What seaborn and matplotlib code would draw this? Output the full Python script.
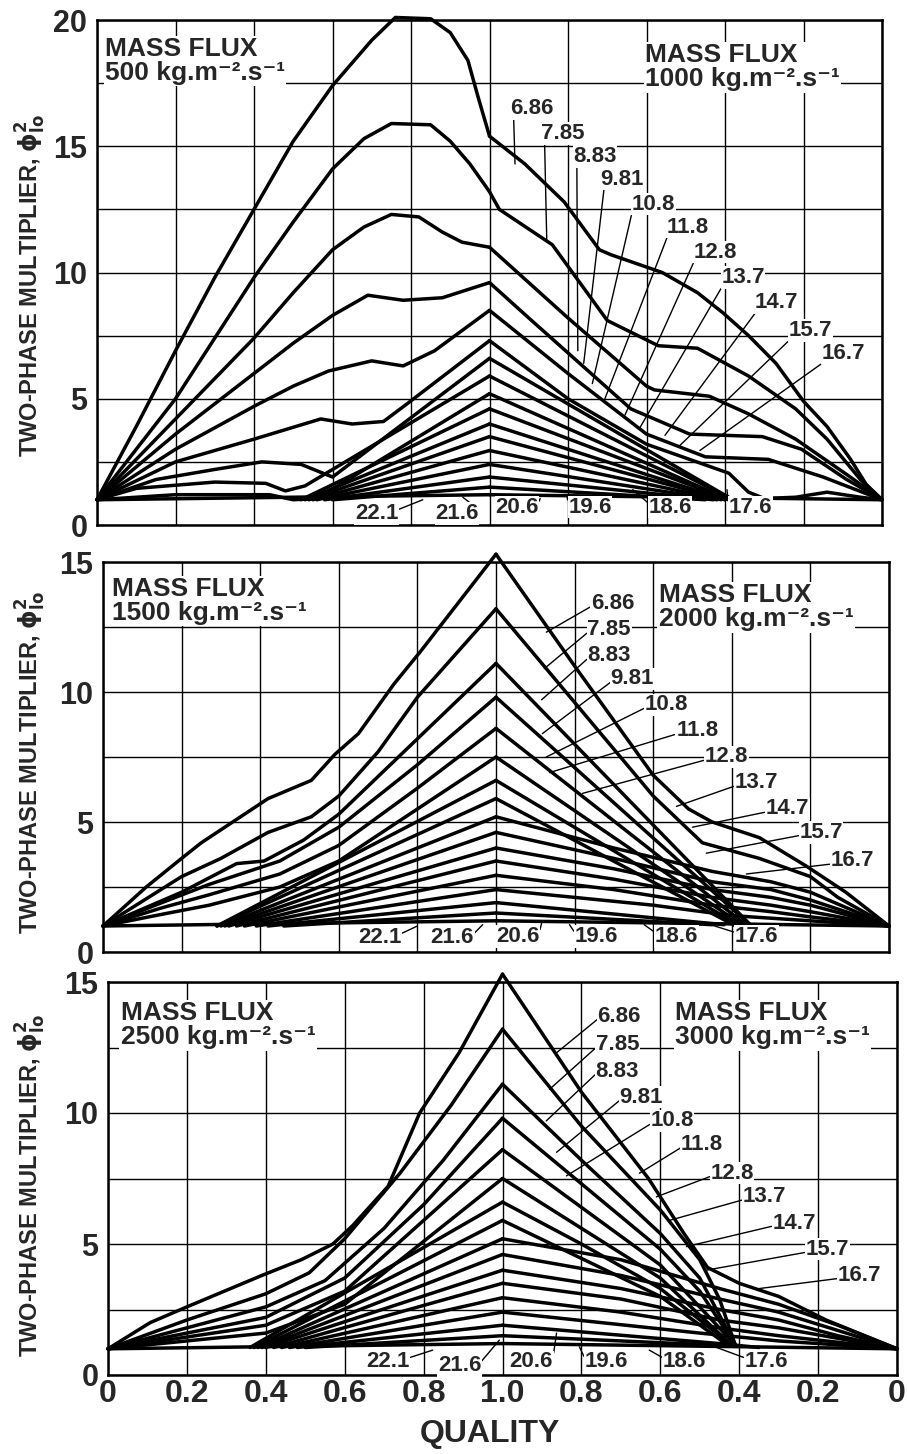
import numpy as np
import pandas as pd
import matplotlib
matplotlib.use("Agg")
import matplotlib.pyplot as plt
import seaborn as sns

# ---------------- data (quality, phi_lo^2) ----------------
PRESSURES = ["6.86", "7.85", "8.83", "9.81", "10.8", "11.8", "12.8", "13.7", "14.7",
             "15.7", "16.7", "17.6", "18.6", "19.6", "20.6", "21.6", "22.1"]

G500 = [
    [[0, 1.0], [0.1, 3.9], [0.2, 6.9], [0.3, 9.8], [0.4, 12.5], [0.5, 15.2], [0.6, 17.4], [0.7, 19.2], [0.76, 20.1], [0.85, 20.05], [0.9, 19.5], [0.945, 18.4], [0.97, 17.0], [1.0, 15.4]],
    [[0, 1.0], [0.2, 5.0], [0.4, 9.8], [0.5, 12.0], [0.6, 14.1], [0.68, 15.3], [0.75, 15.9], [0.85, 15.85], [0.9, 15.2], [0.95, 14.3], [1.0, 13.2]],
    [[0, 1.0], [0.2, 4.2], [0.4, 7.4], [0.5, 9.2], [0.6, 10.9], [0.68, 11.8], [0.75, 12.3], [0.82, 12.2], [0.88, 11.6], [0.93, 11.2], [1.0, 11.0]],
    [[0, 1.0], [0.2, 3.6], [0.4, 6.0], [0.5, 7.2], [0.6, 8.3], [0.69, 9.1], [0.78, 8.9], [0.88, 9.0], [1.0, 9.6]],
    [[0, 1.0], [0.2, 3.0], [0.4, 4.7], [0.5, 5.5], [0.59, 6.1], [0.7, 6.5], [0.78, 6.3], [0.86, 6.9], [1.0, 8.5]],
    [[0, 1.0], [0.2, 2.5], [0.4, 3.4], [0.57, 4.2], [0.65, 4.0], [0.73, 4.1], [0.79, 4.8], [1.0, 7.3]],
    [[0, 1.0], [0.15, 1.8], [0.3, 2.2], [0.42, 2.5], [0.52, 2.4], [0.6, 1.9], [1.0, 6.6]],
    [[0, 1.0], [0.1, 1.45], [0.3, 1.7], [0.43, 1.65], [0.48, 1.35], [0.53, 1.55], [1.0, 5.9]],
    [[0, 1.0], [0.2, 1.2], [0.44, 1.2], [0.5, 1.0], [0.56, 1.05], [1.0, 5.2]],
    [[0.52, 1.0], [1.0, 4.6]],
    [[0.53, 1.0], [1.0, 4.0]],
    [[0.54, 1.0], [1.0, 3.5]],
    [[0.55, 1.0], [1.0, 2.95]],
    [[0.56, 1.0], [1.0, 2.4]],
    [[0.58, 1.0], [1.0, 1.9]],
    [[0.6, 1.0], [1.0, 1.5]],
    [[0, 1.0], [1.0, 1.2]],
]

G1000 = [
    [[1.0, 15.4], [0.91, 14.3], [0.81, 12.8], [0.72, 10.9], [0.69, 10.7], [0.56, 10.0], [0.47, 9.2], [0.405, 8.4], [0.34, 7.5], [0.27, 6.4], [0.2, 4.9], [0.14, 3.9], [0.08, 2.6], [0.04, 1.6], [0.0, 1.0]],
    [[1.0, 13.2], [0.975, 12.5], [0.84, 11.1], [0.7, 8.1], [0.57, 7.1], [0.47, 7.0], [0.34, 5.9], [0.22, 4.6], [0.14, 3.4], [0.055, 1.8], [0.0, 1.0]],
    [[1.0, 11.0], [0.95, 10.3], [0.8, 8.2], [0.6, 5.5], [0.58, 5.35], [0.44, 5.1], [0.34, 4.4], [0.22, 3.4], [0.09, 2.0], [0.0, 1.0]],
    [[1.0, 9.6], [0.9, 8.2], [0.64, 4.6], [0.49, 3.6], [0.305, 3.5], [0.205, 3.0], [0.09, 1.8], [0.0, 1.0]],
    [[1.0, 8.5], [0.8, 6.0], [0.6, 3.6], [0.45, 2.7], [0.29, 2.6], [0.15, 1.9], [0.0, 1.0]],
    [[1.0, 7.3], [0.8, 5.0], [0.6, 3.2], [0.39, 2.05], [0.34, 1.3], [0.3, 1.05], [0.22, 1.1], [0.14, 1.3], [0.055, 1.1], [0.0, 1.0]],
    [[1.0, 6.6], [0.38, 1.0]],
    [[1.0, 5.9], [0.38, 1.0]],
    [[1.0, 5.2], [0.39, 1.0]],
    [[1.0, 4.6], [0.39, 1.0]],
    [[1.0, 4.0], [0.4, 1.0]],
    [[1.0, 3.5], [0.4, 1.0]],
    [[1.0, 2.95], [0.41, 1.0]],
    [[1.0, 2.4], [0.42, 1.0]],
    [[1.0, 1.9], [0.43, 1.0]],
    [[1.0, 1.5], [0.45, 1.0]],
    [[1.0, 1.2], [0.0, 1.0]],
]

G1500 = [
    [[0, 1.0], [0.11, 2.5], [0.2, 3.6], [0.25, 4.2], [0.42, 5.9], [0.53, 6.6], [0.59, 7.6], [0.65, 8.4], [0.74, 10.3], [0.81, 11.6], [1.0, 15.3]],
    [[0, 1.0], [0.2, 2.9], [0.3, 3.6], [0.42, 4.6], [0.53, 5.2], [0.6, 6.0], [0.7, 7.7], [0.8, 9.8], [1.0, 13.2]],
    [[0, 1.0], [0.2, 2.3], [0.34, 3.4], [0.41, 3.5], [0.51, 4.3], [0.6, 5.3], [0.8, 8.2], [1.0, 11.1]],
    [[0, 1.0], [0.15, 1.9], [0.27, 2.6], [0.45, 3.5], [0.6, 4.8], [0.8, 7.2], [1.0, 9.8]],
    [[0, 1.0], [0.15, 1.7], [0.27, 2.2], [0.45, 3.0], [0.6, 4.1], [0.8, 6.3], [1.0, 8.6]],
    [[0, 1.0], [0.15, 1.45], [0.27, 1.8], [0.45, 2.5], [0.6, 3.5], [1.0, 7.5]],
    [[0.29, 1.0], [1.0, 6.6]],
    [[0.29, 1.0], [1.0, 5.9]],
    [[0.3, 1.0], [1.0, 5.2]],
    [[0.31, 1.0], [1.0, 4.6]],
    [[0.32, 1.0], [1.0, 4.0]],
    [[0.34, 1.0], [1.0, 3.5]],
    [[0.36, 1.0], [1.0, 2.95]],
    [[0.39, 1.0], [1.0, 2.4]],
    [[0.42, 1.0], [1.0, 1.9]],
    [[0.46, 1.0], [1.0, 1.5]],
    [[0, 1.0], [1.0, 1.2]],
]

G2000 = [
    [[1.0, 15.3], [0.8, 11.0], [0.6, 6.8], [0.51, 5.5], [0.45, 5.0], [0.33, 4.4], [0.21, 3.3], [0.11, 2.3], [0.0, 1.0]],
    [[1.0, 13.2], [0.8, 9.6], [0.6, 6.0], [0.475, 4.2], [0.33, 3.6], [0.2, 2.9], [0.13, 2.1], [0.0, 1.0]],
    [[1.0, 11.1], [0.35, 1.0]],
    [[1.0, 9.8], [0.35, 1.0]],
    [[1.0, 8.6], [0.36, 1.0]],
    [[1.0, 7.5], [0.37, 1.0]],
    [[1.0, 6.6], [0.38, 1.0]],
    [[1.0, 5.9], [0.39, 1.0]],
    [[1.0, 5.2], [0.7, 4.0], [0.45, 3.1], [0.3, 2.7], [0.2, 2.3], [0.0, 1.0]],
    [[1.0, 4.6], [0.7, 3.6], [0.45, 2.7], [0.3, 2.4], [0.2, 2.0], [0.0, 1.0]],
    [[1.0, 4.0], [0.7, 3.2], [0.45, 2.4], [0.3, 2.1], [0.2, 1.8], [0.0, 1.0]],
    [[1.0, 3.5], [0.7, 2.8], [0.45, 2.1], [0.3, 1.8], [0.2, 1.55], [0.0, 1.0]],
    [[1.0, 2.95], [0.7, 2.4], [0.45, 1.8], [0.3, 1.55], [0.2, 1.35], [0.0, 1.0]],
    [[1.0, 2.4], [0.6, 1.8], [0.4, 1.4], [0.2, 1.2], [0.0, 1.0]],
    [[1.0, 1.9], [0.42, 1.05]],
    [[1.0, 1.5], [0.45, 1.05]],
    [[1.0, 1.2], [0.0, 1.0]],
]

G2500 = [
    [[0, 1.0], [0.107, 2.0], [0.2, 2.6], [0.39, 3.8], [0.49, 4.4], [0.57, 5.0], [0.62, 5.7], [0.71, 7.2], [0.79, 10.0], [0.89, 12.3], [1.0, 15.3]],
    [[0, 1.0], [0.2, 2.1], [0.4, 3.1], [0.51, 3.9], [0.6, 5.2], [0.74, 7.7], [0.87, 10.3], [1.0, 13.2]],
    [[0, 1.0], [0.2, 1.8], [0.4, 2.6], [0.55, 3.6], [0.7, 5.6], [0.85, 8.2], [1.0, 11.1]],
    [[0, 1.0], [0.2, 1.6], [0.4, 2.2], [0.6, 3.7], [0.8, 6.5], [1.0, 9.8]],
    [[0, 1.0], [0.2, 1.45], [0.4, 1.9], [0.6, 3.2], [1.0, 8.6]],
    [[0, 1.0], [0.2, 1.3], [0.4, 1.6], [0.6, 2.7], [1.0, 7.5]],
    [[0.36, 1.05], [1.0, 6.6]],
    [[0.37, 1.05], [1.0, 5.9]],
    [[0.38, 1.05], [1.0, 5.2]],
    [[0.39, 1.05], [1.0, 4.6]],
    [[0.40, 1.05], [1.0, 4.0]],
    [[0.42, 1.05], [1.0, 3.5]],
    [[0.44, 1.05], [1.0, 2.95]],
    [[0.46, 1.05], [1.0, 2.4]],
    [[0.48, 1.05], [1.0, 1.9]],
    [[0.5, 1.05], [1.0, 1.5]],
    [[0, 1.0], [1.0, 1.2]],
]

G3000 = [
    [[1.0, 15.3], [0.8, 10.8], [0.63, 7.5], [0.54, 5.4], [0.48, 4.1], [0.4, 3.5], [0.3, 3.0], [0.18, 2.1], [0.0, 1.0]],
    [[1.0, 13.2], [0.8, 9.5], [0.6, 6.3], [0.5, 4.4], [0.45, 2.9], [0.41, 1.15]],
    [[1.0, 11.1], [0.8, 8.2], [0.6, 5.4], [0.5, 3.7], [0.41, 1.15]],
    [[1.0, 9.8], [0.8, 7.3], [0.6, 4.8], [0.5, 3.2], [0.41, 1.15]],
    [[1.0, 8.6], [0.8, 6.4], [0.6, 4.2], [0.41, 1.15]],
    [[1.0, 7.5], [0.8, 5.6], [0.6, 3.7], [0.42, 1.15]],
    [[1.0, 6.6], [0.8, 5.0], [0.6, 3.3], [0.42, 1.15]],
    [[1.0, 5.9], [0.6, 3.0], [0.43, 1.15]],
    [[1.0, 5.2], [0.7, 4.4], [0.45, 3.3], [0.3, 2.7], [0.15, 1.9], [0.0, 1.0]],
    [[1.0, 4.6], [0.7, 3.8], [0.45, 2.9], [0.3, 2.4], [0.15, 1.7], [0.0, 1.0]],
    [[1.0, 4.0], [0.7, 3.3], [0.45, 2.5], [0.3, 2.1], [0.15, 1.5], [0.0, 1.0]],
    [[1.0, 3.5], [0.7, 2.9], [0.45, 2.1], [0.3, 1.8], [0.15, 1.4], [0.0, 1.0]],
    [[1.0, 2.95], [0.7, 2.4], [0.45, 1.8], [0.3, 1.5], [0.15, 1.25], [0.0, 1.0]],
    [[1.0, 2.4], [0.5, 1.6], [0.3, 1.3], [0.0, 1.0]],
    [[1.0, 1.9], [0.45, 1.2], [0.35, 1.05]],
    [[1.0, 1.5], [0.4, 1.1]],
    [[1.0, 1.2], [0.0, 1.0]],
]

MASS_FLUX = ["500", "1000", "1500", "2000", "2500", "3000"]
X_TICK_LABELS = ["0", "0.2", "0.4", "0.6", "0.8", "1.0", "0.8", "0.6", "0.4", "0.2", "0"]

# ---------------- layout (positions only) ----------------
W, H = 907, 1454
PANELS = [  # left px, right px, top px, bottom px, ymax
    (97, 882, 20, 525, 20),
    (103, 889, 562, 952, 15),
    (108, 897, 982, 1375, 15),
]
YLABEL_CY = [285, 762, 1185]
FLUX_POS = [((0.010, 0.966), (0.698, 0.954)),
            ((0.011, 0.962), (0.707, 0.945)),
            ((0.016, 0.951), (0.719, 0.951))]

LABEL_XY = [
    [(1.108, 16.5), (1.187, 15.5), (1.269, 14.6), (1.338, 13.7), (1.417, 12.7), (1.506, 11.8),
     (1.575, 10.8), (1.646, 9.8), (1.732, 8.8), (1.817, 7.7), (1.901, 6.8),
     (1.664, 0.7), (1.46, 0.7), (1.256, 0.7), (1.07, 0.7), (0.917, 0.45), (0.713, 0.45)],
    [(1.296, 13.4), (1.288, 12.4), (1.288, 11.4), (1.347, 10.5), (1.433, 9.5), (1.512, 8.5),
     (1.586, 7.5), (1.662, 6.5), (1.741, 5.5), (1.827, 4.6), (1.906, 3.5),
     (1.662, 0.6), (1.459, 0.6), (1.255, 0.6), (1.055, 0.6), (0.889, 0.55), (0.704, 0.55)],
    [(1.296, 13.7), (1.291, 12.6), (1.291, 11.6), (1.352, 10.6), (1.430, 9.7), (1.506, 8.8),
     (1.582, 7.7), (1.663, 6.8), (1.739, 5.8), (1.823, 4.8), (1.904, 3.8),
     (1.668, 0.5), (1.461, 0.5), (1.263, 0.5), (1.073, 0.5), (0.891, 0.35), (0.709, 0.5)],
]
LEADER_END = [
    [(1.065, 14.3), (1.146, 11.2), (1.225, 6.9), (1.24, 6.4), (1.262, 5.6), (1.294, 5.0),
     (1.345, 4.35), (1.383, 3.85), (1.447, 3.55), (1.485, 3.15), (1.536, 2.95),
     (1.605, 1.4), (1.365, 1.4), (1.197, 1.15), (1.129, 1.05), (0.932, 1.1), (0.83, 1.0)],
    [(1.128, 12.3), (1.123, 10.9), (1.116, 9.7), (1.118, 8.4), (1.128, 7.5), (1.136, 6.9),
     (1.22, 6.1), (1.459, 5.6), (1.50, 4.8), (1.535, 3.8), (1.637, 3.0),
     (1.525, 1.15), (1.377, 1.05), (1.187, 1.05), (1.116, 1.1), (0.966, 1.05), (0.80, 1.0)],
    [(1.137, 12.3), (1.119, 10.9), (1.111, 9.7), (1.137, 8.5), (1.162, 7.6), (1.347, 7.7),
     (1.39, 6.8), (1.423, 5.9), (1.466, 4.9), (1.516, 4.0), (1.651, 3.3),
     (1.516, 1.2), (1.372, 0.95), (1.195, 1.07), (1.137, 1.6), (0.992, 1.33), (0.823, 0.95)],
]

sns.set_style("white")
plt.rcParams["font.family"] = ["Liberation Sans", "DejaVu Sans"]
plt.rcParams["font.weight"] = "bold"
plt.rcParams["mathtext.fontset"] = "dejavusans"

fig = plt.figure(figsize=(W / 100, H / 100), dpi=100)


def build_df(left, right):
    rows = []
    for i, pts in enumerate(left):
        for q, v in pts:
            rows.append((f"L{i}", q, v))
    for i, pts in enumerate(right):
        for q, v in pts:
            rows.append((f"R{i}", 2.0 - q, v))
    return pd.DataFrame(rows, columns=["curve", "x", "phi"])


halves = [(G500, G1000), (G1500, G2000), (G2500, G3000)]

for p, (lp, rp, tp, bp, ymax) in enumerate(PANELS):
    ax = fig.add_axes([lp / W, 1 - bp / H, (rp - lp) / W, (bp - tp) / H])
    df = build_df(*halves[p])
    sns.lineplot(data=df, x="x", y="phi", units="curve", estimator=None,
                 color="black", lw=2.5, ax=ax, legend=False)
    for ln in ax.lines:
        ln.set_clip_on(False)
        ln.set_solid_joinstyle("round")
        ln.set_solid_capstyle("round")
        ln.set_zorder(3)
    ax.set_xlim(0, 2)
    ax.set_ylim(0, ymax)
    ax.set_xticks(np.arange(0, 2.01, 0.2))
    ax.set_yticks(np.arange(0, ymax + 0.1, 5))
    ax.set_yticks(np.arange(2.5, ymax, 5), minor=True)
    ax.set_axisbelow(True)
    ax.grid(True, which="major", color="black", lw=1.0)
    ax.grid(True, which="minor", axis="y", color="black", lw=1.0)
    ax.tick_params(axis="both", which="both", length=0)
    ax.tick_params(axis="y", labelsize=22, pad=7)
    ax.set_yticklabels([f"{int(v)}" for v in np.arange(0, ymax + 0.1, 5)], fontweight="bold")
    if p == 2:
        ax.set_xticklabels(X_TICK_LABELS, fontsize=23, fontweight="bold")
        ax.tick_params(axis="x", pad=3)
    else:
        ax.set_xticklabels([])
    ax.set_xlabel("")
    ax.set_ylabel("")
    for s in ax.spines.values():
        s.set_color("black")
        s.set_linewidth(1.8)
        s.set_visible(True)

    # mass flux captions
    for k, (fx, fy) in enumerate(FLUX_POS[p]):
        ax.text(fx, fy, f"MASS FLUX\n{MASS_FLUX[2 * p + k]} kg.m\u207b\u00b2.s\u207b\u00b9",
                transform=ax.transAxes, ha="left", va="top", fontsize=19,
                fontweight="bold", linespacing=1.0, zorder=5,
                bbox=dict(fc="white", ec="none", pad=1.0))

    # pressure labels with leaders
    for i, name in enumerate(PRESSURES):
        tx, ty = LABEL_XY[p][i]
        ex, ey = LEADER_END[p][i]
        if i < 11:
            if p == 0 and i < 4:
                rel = (0.08, 0.0)
            elif p == 0:
                rel = (0.0, 0.0)
            else:
                rel = (0.0, 0.35)
        elif i < 14:
            rel = (0.0, 0.7)
        else:
            rel = (1.0, 0.7)
        ax.annotate(name, xy=(ex, ey), xytext=(tx, ty), textcoords="data",
                    ha="center", va="center", fontsize=16, fontweight="bold",
                    zorder=6, annotation_clip=False,
                    bbox=dict(fc="white", ec="none", pad=0.4),
                    arrowprops=dict(arrowstyle="-", lw=1.0, color="black",
                                    shrinkA=0, shrinkB=0, relpos=rel))

    fig.text(31 / W, 1 - YLABEL_CY[p] / H,
             r"TWO-PHASE MULTIPLIER, $\mathbf{\phi^{2}_{lo}}$",
             rotation=90, ha="center", va="center", fontsize=17, fontweight="bold")

fig.text(490 / W, 1 - 1434 / H, "QUALITY", ha="center", va="center",
         fontsize=23, fontweight="bold")

fig.savefig("out.png", dpi=100, facecolor="white")
